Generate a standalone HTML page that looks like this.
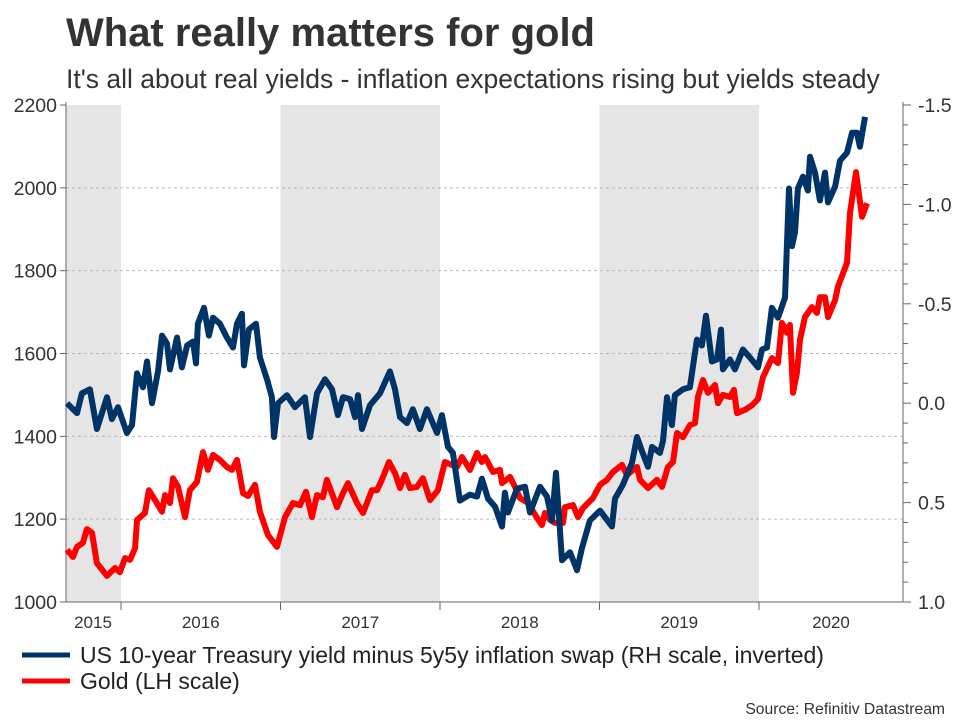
<!DOCTYPE html>
<html><head><meta charset="utf-8"><style>
body{margin:0;background:#fff;font-family:"Liberation Sans",sans-serif;}
</style></head><body>
<svg id="chart" width="960" height="720" xmlns="http://www.w3.org/2000/svg" font-family="Liberation Sans, sans-serif">
<text x="66" y="46" font-size="40" font-weight="bold" fill="#333">What really matters for gold</text>
<text x="66" y="88" font-size="26.5" fill="#333">It's all about real yields - inflation expectations rising but yields steady</text>
<g id="bands"></g><g id="grid"></g><g id="axes"></g><g id="series"></g>
<g>
<line x1="22" y1="655" x2="70" y2="655" stroke="#003366" stroke-width="5"/>
<text x="80" y="663" font-size="23" fill="#222">US 10-year Treasury yield minus 5y5y inflation swap (RH scale, inverted)</text>
<line x1="22" y1="681" x2="70" y2="681" stroke="#ff0000" stroke-width="5"/>
<text x="80" y="689" font-size="23" fill="#222">Gold (LH scale)</text>
</g>
<text x="945" y="714" font-size="15.7" fill="#333" text-anchor="end">Source: Refinitiv Datastream</text>
</svg>
<script>
const leftTicks=[1000,1200,1400,1600,1800,2000,2200];
const rightTicks=[-1.5,-1.0,-0.5,0.0,0.5,1.0];
const rightTickLabels=["-1.5","-1.0","-0.5","0.0","0.5","1.0"];
const years=[2015,2016,2017,2018,2019,2020];
const shadedYears=[2015,2017,2019];
const goldDates=[2015.661,2015.699,2015.724,2015.761,2015.786,2015.818,2015.849,2015.912,2015.962,2015.993,2016.025,2016.056,2016.088,2016.100,2016.150,2016.175,2016.213,2016.257,2016.276,2016.307,2016.326,2016.357,2016.401,2016.432,2016.476,2016.514,2016.545,2016.577,2016.620,2016.664,2016.696,2016.727,2016.765,2016.796,2016.840,2016.871,2016.921,2016.978,2017.028,2017.078,2017.122,2017.160,2017.197,2017.229,2017.266,2017.291,2017.354,2017.392,2017.423,2017.479,2017.517,2017.573,2017.605,2017.636,2017.680,2017.718,2017.749,2017.780,2017.812,2017.855,2017.893,2017.937,2017.987,2018.031,2018.106,2018.138,2018.188,2018.232,2018.263,2018.282,2018.332,2018.376,2018.389,2018.439,2018.470,2018.501,2018.552,2018.608,2018.639,2018.658,2018.690,2018.721,2018.771,2018.784,2018.834,2018.865,2018.897,2018.959,2019.003,2019.047,2019.085,2019.141,2019.172,2019.235,2019.254,2019.304,2019.360,2019.392,2019.429,2019.461,2019.486,2019.523,2019.567,2019.599,2019.617,2019.649,2019.680,2019.724,2019.743,2019.774,2019.818,2019.843,2019.862,2019.912,2019.956,2019.994,2020.025,2020.081,2020.119,2020.144,2020.176,2020.194,2020.213,2020.238,2020.257,2020.288,2020.332,2020.363,2020.382,2020.414,2020.433,2020.477,2020.495,2020.552,2020.571,2020.608,2020.646,2020.677];
const goldValues=[1126,1109,1133,1143,1176,1167,1094,1063,1082,1072,1106,1102,1130,1198,1215,1270,1246,1218,1258,1239,1299,1278,1205,1270,1290,1362,1319,1355,1343,1326,1319,1343,1263,1256,1283,1218,1162,1133,1205,1239,1234,1266,1205,1258,1253,1295,1229,1263,1287,1239,1215,1270,1270,1295,1338,1311,1275,1307,1275,1278,1299,1246,1270,1338,1326,1350,1319,1360,1338,1350,1314,1319,1287,1302,1278,1251,1239,1203,1186,1215,1198,1191,1191,1229,1234,1205,1227,1251,1283,1295,1314,1331,1307,1326,1295,1275,1295,1278,1326,1338,1408,1398,1427,1432,1495,1536,1505,1524,1480,1500,1495,1512,1456,1464,1475,1490,1543,1589,1577,1674,1650,1669,1505,1553,1633,1688,1712,1698,1736,1736,1688,1729,1761,1819,1939,2038,1930,1963];
const yieldDates=[2015.661,2015.724,2015.755,2015.805,2015.849,2015.912,2015.943,2015.981,2016.037,2016.069,2016.100,2016.138,2016.163,2016.194,2016.232,2016.257,2016.288,2016.307,2016.351,2016.382,2016.414,2016.451,2016.470,2016.482,2016.520,2016.551,2016.577,2016.620,2016.664,2016.702,2016.727,2016.758,2016.771,2016.802,2016.846,2016.871,2016.915,2016.946,2016.959,2016.984,2017.040,2017.091,2017.153,2017.185,2017.229,2017.279,2017.323,2017.360,2017.392,2017.436,2017.467,2017.486,2017.511,2017.561,2017.624,2017.686,2017.718,2017.749,2017.793,2017.830,2017.874,2017.918,2017.981,2018.012,2018.050,2018.081,2018.125,2018.188,2018.232,2018.263,2018.301,2018.345,2018.389,2018.407,2018.426,2018.483,2018.533,2018.564,2018.627,2018.671,2018.702,2018.727,2018.765,2018.815,2018.859,2018.890,2018.940,2019.003,2019.078,2019.097,2019.147,2019.204,2019.235,2019.266,2019.304,2019.329,2019.379,2019.398,2019.423,2019.454,2019.473,2019.523,2019.567,2019.611,2019.642,2019.668,2019.705,2019.737,2019.762,2019.774,2019.818,2019.849,2019.899,2019.943,2019.994,2020.019,2020.050,2020.081,2020.119,2020.163,2020.188,2020.207,2020.226,2020.244,2020.276,2020.307,2020.320,2020.351,2020.382,2020.414,2020.433,2020.477,2020.508,2020.552,2020.583,2020.614,2020.633,2020.665];
const yieldValues=[0.0,0.05,-0.05,-0.07,0.13,-0.03,0.08,0.02,0.15,0.11,-0.15,-0.08,-0.21,0.0,-0.16,-0.34,-0.30,-0.17,-0.33,-0.18,-0.29,-0.31,-0.20,-0.40,-0.48,-0.34,-0.43,-0.40,-0.33,-0.28,-0.40,-0.45,-0.19,-0.37,-0.40,-0.23,-0.12,-0.03,0.17,0.0,-0.04,0.02,-0.03,0.17,-0.05,-0.12,-0.07,0.06,-0.03,-0.02,0.07,-0.04,0.13,0.01,-0.05,-0.16,-0.07,0.07,0.10,0.03,0.13,0.03,0.15,0.06,0.22,0.25,0.49,0.46,0.47,0.38,0.48,0.52,0.62,0.45,0.55,0.43,0.42,0.55,0.42,0.47,0.59,0.35,0.79,0.75,0.84,0.73,0.59,0.54,0.62,0.48,0.41,0.30,0.17,0.24,0.32,0.22,0.25,0.19,-0.03,0.11,-0.04,-0.07,-0.08,-0.32,-0.29,-0.44,-0.21,-0.22,-0.37,-0.17,-0.22,-0.17,-0.27,-0.23,-0.18,-0.27,-0.28,-0.48,-0.43,-0.53,-1.08,-0.79,-0.86,-1.08,-1.14,-1.07,-1.24,-1.16,-1.02,-1.16,-1.01,-1.09,-1.22,-1.26,-1.36,-1.36,-1.29,-1.44];

const X0=66,X1=903,T0=2015.655,T1=2020.903,YT=105,YB=602;
const xS=t=>X0+(t-T0)/(T1-T0)*(X1-X0);
const yL=v=>YB-(v-1000)/(2200-1000)*(YB-YT);
const yR=v=>YT+(v-(-1.5))/(1.0-(-1.5))*(YB-YT);
const NS="http://www.w3.org/2000/svg";
function mk(tag,attrs,parent,txt){const e=document.createElementNS(NS,tag);for(const k in attrs)e.setAttribute(k,attrs[k]);if(txt!==undefined)e.textContent=txt;document.getElementById(parent).appendChild(e);return e;}
shadedYears.forEach(y=>{const a=Math.max(xS(y),X0),b=Math.min(xS(y+1),X1);
 const r=mk('rect',{x:a,y:YT,width:b-a,height:YB-YT,fill:'#e5e5e5'},'bands');
 
 });
leftTicks.forEach(v=>{
 if(v>1000&&v<2200){const g=mk('line',{x1:X0,x2:X1,y1:yL(v),y2:yL(v),stroke:'#bbb','stroke-dasharray':'3,3','stroke-width':1},'grid');
 
 }
 const t=mk('text',{x:X0-9,y:yL(v)+7,'font-size':19.5,fill:'#333','text-anchor':'end'},'axes',String(v));
 
 
 mk('line',{x1:X0-6,x2:X0,y1:yL(v),y2:yL(v),stroke:'#666'},'axes');});
mk('line',{x1:X0,x2:X0,y1:YT-3,y2:YB,stroke:'#666'},'axes');
mk('line',{x1:X1,x2:X1,y1:YT-3,y2:YB,stroke:'#666'},'axes');
mk('line',{x1:X0,x2:X1,y1:YB,y2:YB,stroke:'#666'},'axes');
for(let i=0;i<=25;i++){const v=-1.5+i*0.1;const big=i%5===0;
 mk('line',{x1:X1,x2:X1+(big?8:5),y1:yR(v),y2:yR(v),stroke:'#666'},'axes');}
rightTicks.forEach((v,i)=>{const t=mk('text',{x:X1+15,y:yR(v)+7,'font-size':19.5,fill:'#333'},'axes',rightTickLabels[i]);
 
 });
years.forEach(y=>{
 if(y>2015)mk('line',{x1:xS(y),x2:xS(y),y1:YB,y2:YB+8,stroke:'#666'},'axes');
 const c=(Math.max(xS(y),X0)+Math.min(xS(y+1),X1))/2;
 const t=mk('text',{x:y===2015?93:c,y:628,'font-size':17,fill:'#333','text-anchor':'middle'},'axes',String(y));
 
 });
const yp=yieldDates.map((d,i)=>xS(d).toFixed(1)+','+yR(yieldValues[i]).toFixed(1)).join(' ');
const gp=goldDates.map((d,i)=>xS(d).toFixed(1)+','+yL(goldValues[i]).toFixed(1)).join(' ');
const gl=mk('polyline',{points:gp,fill:'none',stroke:'#ff0000','stroke-width':6,'stroke-linejoin':'round'},'series');


const yl=mk('polyline',{points:yp,fill:'none',stroke:'#003366','stroke-width':6,'stroke-linejoin':'round'},'series');


</script>
</body></html>
